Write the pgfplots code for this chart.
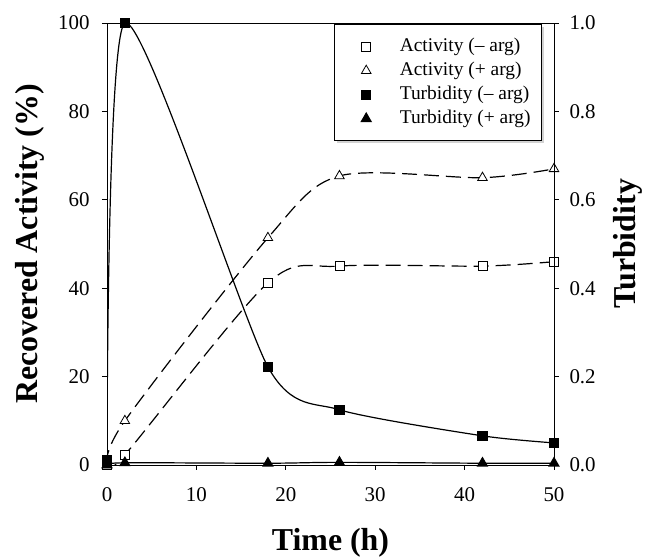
\documentclass[border=0pt]{standalone}
\usepackage{fontspec}
\setmainfont{Liberation Serif}
\usepackage{pgfplots}
\pgfplotsset{compat=1.18}
\usetikzlibrary{shadows}

\pgfplotstableread{
t  actm  actp
0  0.0   0.0
2  2.3   10.0
18 41.2  51.4
26 45.0  65.4
42 45.0  65.0
50 46.0  67.0
}\activity

\pgfplotstableread{
t  turbm  turbp
0  0.012  0.000
2  1.000  0.005
18 0.222  0.004
26 0.125  0.006
42 0.066  0.004
50 0.050  0.004
}\turbidity

\begin{document}
\begin{tikzpicture}
\pgfplotsset{
  common/.style={
    width=447bp, height=442bp, scale only axis,
    xmin=0, xmax=50,
    tick align=outside, major tick length=5bp,
    /pgf/number format/assume math mode=true,
    tick label style={font=\fontsize{21}{24}\selectfont},
    axis line style={line width=0.8bp},
    every tick/.style={black, line width=0.8bp},
  },
}
\path[use as bounding box] (-107bp,-93bp) rectangle (541bp,465bp);
\begin{axis}[common,
  ymin=0, ymax=100,
  xtick={0,10,...,50}, ytick={0,20,...,100},
  xtick pos=bottom, ytick pos=left,
  xticklabel style={yshift=-14bp},
  yticklabel style={xshift=-9bp},
  xlabel={Time (h)}, ylabel={Recovered Activity (\%)},
  every axis x label/.style={at={(axis description cs:0.5,-0.176)}, anchor=center, font=\fontsize{32}{36}\selectfont\bfseries},
  every axis y label/.style={at={(axis description cs:-0.172,0.5)}, anchor=center, rotate=90, font=\fontsize{32}{36}\selectfont\bfseries},
]
\addplot[black, line width=1.2bp, dash pattern=on 15bp off 7bp, smooth,
  mark=square*, mark size=4.5bp, mark options={solid, fill=white, line width=0.8bp}]
  table[x=t, y=actm] {\activity};
\addplot[black, line width=1.2bp, dash pattern=on 15bp off 7bp, smooth,
  mark=triangle*, mark size=5.5bp, mark options={solid, fill=white, line width=0.8bp}]
  table[x=t, y=actp] {\activity};
\end{axis}
\begin{axis}[common,
  ymin=0, ymax=1,
  axis x line=none, axis y line*=right,
  ytick={0,0.2,...,1.0},
  yticklabel style={xshift=7bp, /pgf/number format/.cd, fixed, fixed zerofill, precision=1},
  ylabel={Turbidity},
  every axis y label/.style={at={(axis description cs:1.166,0.5)}, anchor=center, rotate=90, font=\fontsize{32}{36}\selectfont\bfseries},
  legend cell align=left,
  legend image code/.code={\path (0bp,-3bp) (53bp,3bp); \draw[#1] plot coordinates {(22bp,0bp)};},
  legend style={at={(0.973,0.997)}, anchor=north east,
    font=\fontsize{19.5}{22}\selectfont, draw=black, line width=0.7bp,
    inner xsep=9bp, inner ysep=10bp, row sep=0bp,
    nodes={text height=14bp, text depth=5bp, inner ysep=2.5bp},
    drop shadow={shadow xshift=2bp, shadow yshift=-2bp, fill=gray!70}},
]
\addlegendimage{only marks, black, mark=square*, mark size=4.5bp, mark options={fill=white, line width=0.8bp}}
\addlegendentry{Activity (-- arg)}
\addlegendimage{only marks, black, mark=triangle*, mark size=5.5bp, mark options={fill=white, line width=0.8bp}}
\addlegendentry{Activity (+ arg)}
\addplot[black, line width=1.2bp, smooth, tension=0.4, mark=square*, mark size=4.5bp, mark options={fill=black}]
  table[x=t, y=turbm] {\turbidity};
\addlegendentry{Turbidity (-- arg)}
\addplot[black, line width=1.2bp, smooth, mark=triangle*, mark size=5.5bp, mark options={fill=black}]
  table[x=t, y=turbp] {\turbidity};
\addlegendentry{Turbidity (+ arg)}
\end{axis}
\end{tikzpicture}
\end{document}
